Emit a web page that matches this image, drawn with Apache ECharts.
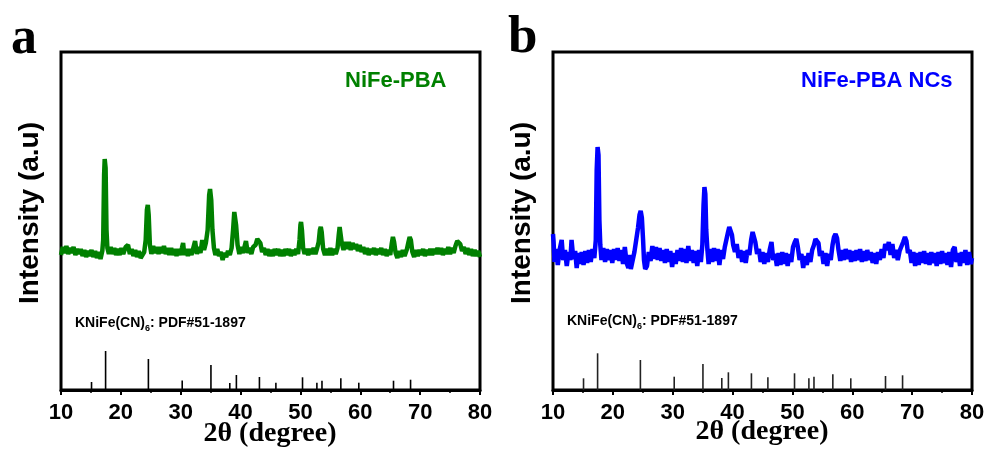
<!DOCTYPE html>
<html>
<head>
<meta charset="utf-8">
<script src="https://cdn.jsdelivr.net/npm/echarts@6/dist/echarts.min.js"></script>
<style>html,body{margin:0;padding:0;background:#fff}#c{width:989px;height:450px}</style>
</head>
<body>
<div id="c"></div>
<script>
// x tick labels (2θ, degree)
var xTicks = [10, 20, 30, 40, 50, 60, 70, 80];
// panel a: NiFe-PBA trace [2θ, intensity a.u.]
var traceA = [[10.0,135],[10.3,143],[10.6,137],[10.9,144],[11.2,136],[11.5,142],[11.8,137],[12.1,143],[12.4,135],[12.7,141],[13.0,136],[13.3,141],[13.6,134],[13.9,140],[14.2,133],[14.5,139],[14.8,134],[15.1,140],[15.4,133],[15.7,139],[16.0,132],[16.3,138],[16.6,131],[16.9,139],[17.05,150],[17.2,215],[17.3,231],[17.45,222],[17.6,160],[17.75,142],[18.0,136],[18.3,143],[18.6,136],[18.9,142],[19.2,135],[19.5,141],[19.8,135],[20.1,142],[20.4,136],[20.8,143],[21.2,145],[21.5,136],[21.8,141],[22.1,134],[22.4,140],[22.7,133],[23.0,139],[23.3,132],[23.6,131],[23.9,138],[24.15,150],[24.35,180],[24.5,185],[24.65,175],[24.85,145],[25.1,136],[25.4,144],[25.7,137],[26.0,143],[26.3,136],[26.6,143],[26.9,137],[27.2,144],[27.5,136],[27.8,142],[28.1,135],[28.4,142],[28.7,135],[29.0,141],[29.3,134],[29.6,141],[29.9,135],[30.2,142],[30.4,147],[30.6,135],[30.9,141],[31.2,134],[31.5,141],[31.8,135],[32.1,142],[32.4,149],[32.7,136],[33.0,143],[33.3,137],[33.6,150],[33.9,140],[34.2,147],[34.5,160],[34.75,195],[34.9,201],[35.1,190],[35.3,160],[35.55,142],[35.8,135],[36.1,141],[36.4,134],[36.7,138],[37.0,130],[37.3,137],[37.6,133],[37.9,139],[38.2,135],[38.5,142],[38.75,160],[38.95,178],[39.05,180],[39.25,165],[39.5,145],[39.8,136],[40.1,143],[40.4,137],[40.9,149],[41.2,137],[41.5,142],[41.8,136],[42.1,143],[42.5,145],[42.8,151],[43.0,152],[43.3,147],[43.6,138],[43.9,142],[44.2,135],[44.5,141],[44.8,134],[45.1,140],[45.4,134],[45.7,141],[46.0,135],[46.3,141],[46.6,134],[46.9,140],[47.2,134],[47.5,141],[47.8,135],[48.1,141],[48.4,134],[48.7,140],[49.0,135],[49.3,141],[49.6,136],[49.85,150],[50.0,165],[50.1,168],[50.25,160],[50.45,142],[50.7,136],[51.0,141],[51.3,135],[51.6,141],[51.9,136],[52.2,142],[52.5,136],[52.8,142],[53.05,148],[53.25,160],[53.4,163],[53.55,158],[53.8,141],[54.1,135],[54.4,141],[54.7,135],[55.0,142],[55.3,135],[55.6,141],[55.9,136],[56.2,142],[56.4,155],[56.55,163],[56.7,161],[56.9,147],[57.2,140],[57.5,148],[57.8,141],[58.1,148],[58.4,140],[58.7,147],[59.0,141],[59.3,146],[59.6,139],[59.9,145],[60.2,138],[60.5,143],[60.8,136],[61.1,142],[61.4,135],[61.7,141],[62.0,136],[62.3,142],[62.6,135],[62.9,141],[63.2,136],[63.5,142],[63.8,135],[64.1,141],[64.4,134],[64.7,140],[65.0,135],[65.25,146],[65.45,153],[65.65,148],[65.9,137],[66.2,132],[66.5,139],[66.8,133],[67.1,140],[67.4,134],[67.8,141],[68.05,148],[68.25,153],[68.45,150],[68.7,138],[69.0,133],[69.3,140],[69.6,134],[69.9,140],[70.2,135],[70.5,141],[70.8,134],[71.1,140],[71.4,135],[71.7,141],[72.0,135],[72.3,141],[72.6,136],[72.9,142],[73.2,136],[73.5,142],[73.8,135],[74.1,141],[74.4,136],[74.7,143],[75.0,136],[75.3,142],[75.6,137],[75.9,144],[76.2,149],[76.4,151],[76.7,146],[77.0,139],[77.3,143],[77.6,136],[77.9,142],[78.2,135],[78.5,141],[78.8,134],[79.1,140],[79.4,134],[79.7,139],[80.0,133]];
// panel b: NiFe-PBA NCs trace [2θ, intensity a.u.]
var traceB = [[10.0,156],[10.1,148],[10.25,128],[10.5,141],[10.8,125],[11.1,140],[11.45,150],[11.7,130],[12.0,140],[12.3,124],[12.6,138],[12.9,130],[13.1,150],[13.4,131],[13.7,139],[13.96,122],[14.2,137],[14.5,126],[14.8,138],[15.1,125],[15.4,139],[15.7,127],[16.0,140],[16.3,128],[16.6,141],[16.9,132],[17.15,150],[17.3,220],[17.45,243],[17.6,235],[17.75,170],[17.9,145],[18.1,130],[18.4,142],[18.7,128],[19.0,141],[19.3,130],[19.6,140],[19.9,127],[20.2,141],[20.5,130],[20.8,142],[21.1,129],[21.4,140],[21.7,126],[22.0,143],[22.3,127],[22.6,122],[22.75,135],[23.0,121],[23.3,122],[23.6,138],[23.9,150],[24.2,162],[24.45,175],[24.65,179],[24.85,172],[25.05,150],[25.2,130],[25.4,121],[25.7,124],[26.0,138],[26.3,129],[26.6,144],[26.9,131],[27.2,143],[27.5,130],[27.8,142],[28.1,129],[28.4,140],[28.7,127],[29.0,141],[29.3,128],[29.6,139],[29.9,123],[30.2,137],[30.5,126],[30.8,140],[31.1,129],[31.4,142],[31.7,128],[32.0,141],[32.3,127],[32.6,144],[32.9,129],[33.2,140],[33.5,127],[33.8,139],[34.1,124],[34.4,140],[34.7,128],[34.95,145],[35.15,185],[35.3,203],[35.45,196],[35.6,160],[35.8,140],[36.0,126],[36.3,141],[36.6,128],[36.9,142],[37.2,129],[37.5,141],[37.8,125],[38.1,140],[38.4,131],[38.7,143],[39.0,145],[39.25,158],[39.45,163],[39.7,163],[39.9,155],[40.1,145],[40.4,138],[40.7,146],[41.0,132],[41.3,140],[41.6,128],[41.9,139],[42.2,127],[42.5,140],[42.8,135],[43.1,150],[43.35,158],[43.55,159],[43.8,148],[44.1,136],[44.4,141],[44.7,128],[45.0,138],[45.3,126],[45.6,137],[45.9,128],[46.2,140],[46.5,148],[46.8,130],[47.1,136],[47.4,124],[47.7,137],[48.0,125],[48.3,138],[48.6,126],[48.9,137],[49.2,124],[49.5,136],[49.8,128],[50.1,143],[50.4,148],[50.65,151],[50.9,143],[51.2,130],[51.5,136],[51.8,122],[52.1,134],[52.4,125],[52.7,137],[53.0,128],[53.3,140],[53.6,145],[53.85,151],[54.1,153],[54.35,147],[54.6,134],[54.9,139],[55.2,126],[55.5,137],[55.8,124],[56.1,136],[56.4,130],[56.7,145],[56.95,153],[57.2,156],[57.45,152],[57.7,140],[58.0,129],[58.3,140],[58.6,130],[58.9,141],[59.2,131],[59.5,140],[59.8,128],[60.1,139],[60.4,129],[60.7,140],[61.0,130],[61.3,141],[61.6,128],[61.9,139],[62.2,129],[62.5,140],[62.8,130],[63.1,138],[63.4,127],[63.7,137],[64.0,126],[64.3,138],[64.6,130],[64.9,141],[65.2,132],[65.5,146],[65.8,140],[66.1,148],[66.4,135],[66.7,146],[67.0,132],[67.3,140],[67.6,130],[67.9,139],[68.2,137],[68.5,148],[68.8,153],[69.05,149],[69.3,137],[69.6,140],[69.9,127],[70.2,138],[70.5,124],[70.8,137],[71.1,125],[71.4,138],[71.7,127],[72.0,139],[72.3,126],[72.6,137],[72.9,125],[73.2,138],[73.5,127],[73.8,137],[74.1,124],[74.4,138],[74.7,126],[75.0,139],[75.3,127],[75.6,137],[75.9,125],[76.2,138],[76.5,123],[76.8,140],[77.1,143],[77.4,128],[77.7,137],[78.0,124],[78.3,138],[78.6,127],[78.9,140],[79.2,125],[79.5,138],[79.8,126],[80.0,132]];
// reference pattern KNiFe(CN)6 PDF#51-1897
var pdfPos = [15.1, 17.45, 24.6, 30.25, 35.05, 38.2, 39.3, 43.15, 45.9, 50.35, 52.75, 53.6, 56.75, 59.75, 65.55, 68.4];
var pdfHeightA = [8, 39, 31, 9.5, 25, 7, 15, 13, 7.3, 12.7, 7.3, 9.3, 11.7, 7.3, 9.3, 10.3];
var pdfHeightB = [11.7, 36.7, 30, 13.3, 26, 12, 17.7, 16.7, 12.7, 16.7, 11.7, 13.3, 15.7, 11.7, 14, 14.7];

var SANS = 'Liberation Sans, Arial, sans-serif';
var SERIF = 'Liberation Serif, Times New Roman, serif';

function sticks(h) { return pdfPos.map(function (p, i) { return [p, h[i]]; }); }

function xAxisCfg(idx) {
  return {
    gridIndex: idx, type: 'value', min: 10, max: 80, interval: 10,
    axisLine: { show: true, lineStyle: { color: '#000', width: 3 } },
    axisTick: { show: true, inside: false, length: 5, lineStyle: { color: '#000', width: 2 } },
    minorTick: { show: true, splitNumber: 2, length: 3, lineStyle: { color: '#000', width: 1.5 } },
    splitLine: { show: false },
    axisLabel: { color: '#000', fontFamily: SANS, fontWeight: 'bold', fontSize: 22, margin: 12,
      formatter: function (v) { return xTicks.indexOf(v) >= 0 ? String(v) : ''; } }
  };
}
function yAxisCfg(idx) {
  return {
    gridIndex: idx, type: 'value', min: 0, max: 338,
    axisLine: { show: false }, axisTick: { show: false }, axisLabel: { show: false }, splitLine: { show: false }
  };
}
function yTitle(x, y) {
  return { type: 'text', x: x, y: y, rotation: Math.PI / 2,
    style: { text: 'Intensity (a.u)', fontFamily: SANS, fontWeight: 'bold', fontSize: 28, fill: '#000', align: 'center', verticalAlign: 'middle' } };
}
function xTitle(x, y) {
  return { type: 'text', x: x, y: y,
    style: { text: '2θ (degree)', fontFamily: SERIF, fontWeight: 'bold', fontSize: 28, fill: '#000', align: 'center', verticalAlign: 'middle' } };
}
function pdfLabel(left, top) {
  return {
    type: 'text', left: left, top: top,
    style: {
      text: '{a|KNiFe(CN)}{s|6}{a|: PDF#51-1897}',
      rich: {
        a: { fontFamily: SANS, fontWeight: 'bold', fontSize: 14, fill: '#000', verticalAlign: 'bottom' },
        s: { fontFamily: SANS, fontWeight: 'bold', fontSize: 9, fill: '#000', verticalAlign: 'bottom', padding: [0, 0, -3, 0] }
      }
    }
  };
}

var chart = echarts.init(document.getElementById('c'), null, { renderer: 'canvas' });
chart.setOption({
  animation: false,
  backgroundColor: '#fff',
  grid: [
    { left: 61, top: 52, width: 419, height: 338, show: true, borderColor: '#000', borderWidth: 3, backgroundColor: 'transparent', outerBoundsMode: 'none', containLabel: false },
    { left: 553, top: 52, width: 419, height: 338, show: true, borderColor: '#000', borderWidth: 3, backgroundColor: 'transparent', outerBoundsMode: 'none', containLabel: false }
  ],
  xAxis: [xAxisCfg(0), xAxisCfg(1)],
  yAxis: [yAxisCfg(0), yAxisCfg(1)],
  series: [
    { type: 'line', xAxisIndex: 0, yAxisIndex: 0, data: traceA, showSymbol: false, smooth: false,
      lineStyle: { color: '#008000', width: 4.5 }, z: 3 },
    { type: 'bar', xAxisIndex: 0, yAxisIndex: 0, data: sticks(pdfHeightA), barWidth: 1.6,
      itemStyle: { color: '#000' }, z: 2 },
    { type: 'line', xAxisIndex: 1, yAxisIndex: 1, data: traceB, showSymbol: false, smooth: false,
      lineStyle: { color: '#0000ff', width: 4.5 }, z: 3 },
    { type: 'bar', xAxisIndex: 1, yAxisIndex: 1, data: sticks(pdfHeightB), barWidth: 1.6,
      itemStyle: { color: '#222' }, z: 2 }
  ],
  graphic: [
    { type: 'text', left: 11, top: 14, style: { text: 'a', fontFamily: SERIF, fontWeight: 'bold', fontSize: 52, fill: '#000' } },
    { type: 'text', left: 508, top: 12, style: { text: 'b', fontFamily: SERIF, fontWeight: 'bold', fontSize: 53, fill: '#000' } },
    { type: 'text', left: 345, top: 70, style: { text: 'NiFe-PBA', fontFamily: SANS, fontWeight: 'bold', fontSize: 22, fill: '#008000' } },
    { type: 'text', left: 801, top: 70, style: { text: 'NiFe-PBA NCs', fontFamily: SANS, fontWeight: 'bold', fontSize: 22, fill: '#0000ff' } },
    yTitle(30, 213),
    yTitle(522, 213),
    xTitle(270, 434),
    xTitle(762, 432),
    pdfLabel(75, 316),
    pdfLabel(567, 314)
  ]
});
</script>
</body>
</html>
